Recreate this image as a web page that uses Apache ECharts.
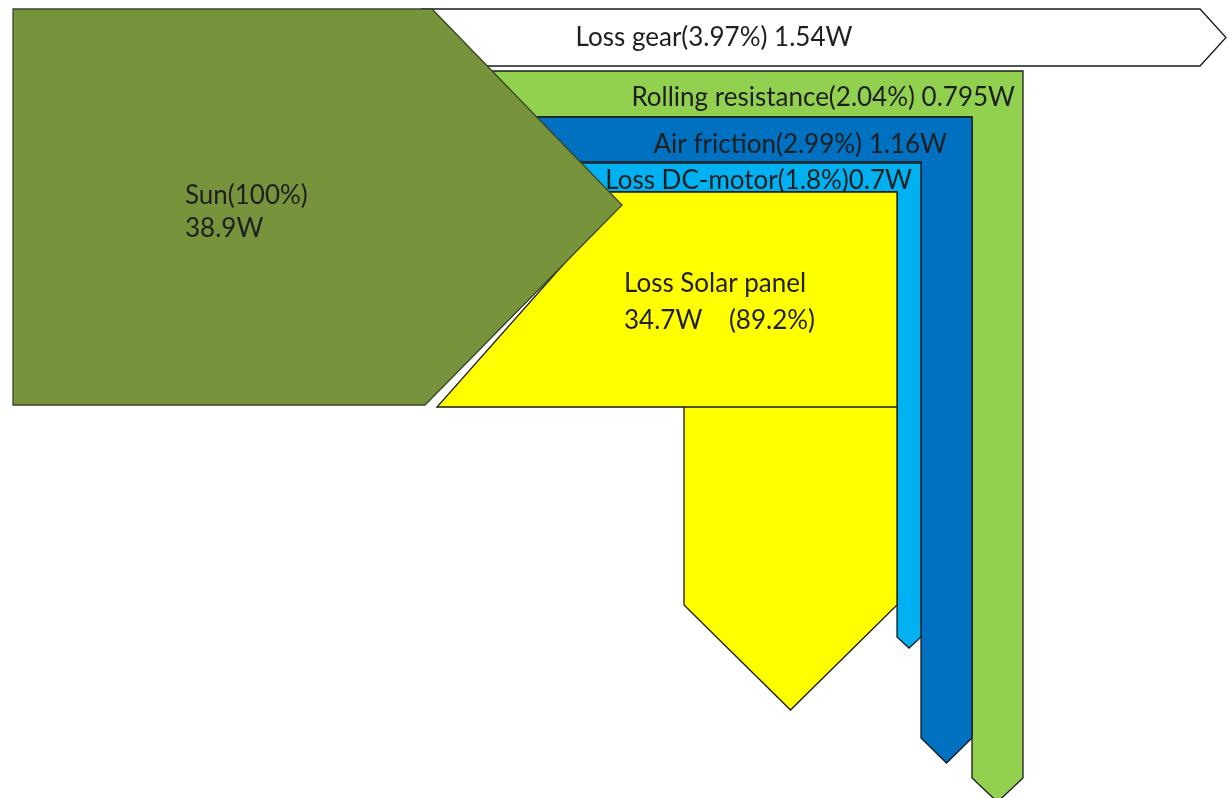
<!DOCTYPE html>
<html>
<head>
<meta charset="utf-8">
<style>
  html, body { margin: 0; padding: 0; background: #ffffff; }
  #chart { width: 1230px; height: 798px; }
</style>
<script src="https://cdn.jsdelivr.net/npm/echarts@6/dist/echarts.min.js"></script>
</head>
<body>
<div id="chart"></div>
<script>
// Power flow of the solar vehicle: the source (last in the list) is drawn last, on top
const flowNames = ['Loss gear', 'Rolling resistance', 'Air friction', 'Loss DC-motor', 'Loss Solar panel', 'Sun'];
const flowPercents = ['3.97', '2.04', '2.99', '1.8', '89.2', '100'];
const flowWatts = ['1.54', '0.795', '1.16', '0.7', '34.7', '38.9'];
const labelFormats = [
  '{n}({p}%) {w}W',
  '{n}({p}%) {w}W',
  '{n}({p}%) {w}W',
  '{n}({p}%){w}W',
  '{n}\n{w}W    ({p}%)',
  '{n}({p}%)\n{w}W'
];

// Diagram layout, in units of the hidden drawing axes (0..1230 across, 0..798 down)
const bandLayout = [
  { kind: 'right', top: 9, bottom: 66, end: 1200, tip: 1226 },
  { kind: 'down', top: 71, bottom: 117, left: 972, right: 1023, end: 778, tip: 802 },
  { kind: 'down', top: 117, bottom: 162, left: 921, right: 972, end: 738, tip: 763 },
  { kind: 'down', top: 163, bottom: 192, left: 897, right: 921, end: 637, tip: 648 },
  { kind: 'down', top: 192, bottom: 407, left: 684, right: 897, end: 605, tip: 710,
    foot: [437, 407], footEdge: [616, 205], footTop: 600, seam: true },
  { kind: 'source', top: 9, bottom: 405, left: 13, shoulder: 432, lowShoulder: 425, tipX: 622, tipY: 205 }
];
const labelLayout = [
  { x: 714, y: 38, align: 'center', lh: 30 },
  { x: 1015, y: 98, align: 'right', lh: 30 },
  { x: 947, y: 145, align: 'right', lh: 30 },
  { x: 912, y: 181, align: 'right', lh: 30 },
  { x: 624, y: 302, align: 'left', lh: 37 },
  { x: 185, y: 212, align: 'left', lh: 33 }
];
const flowColors = ['#ffffff', '#92d050', '#0070c0', '#00b0f0', '#ffff00', '#77933c'];
const flowStrokes = ['#1a1a1a', '#1a1a1a', '#1a1a1a', '#1a1a1a', '#1a1a1a', '#3b4628'];

const source = bandLayout[bandLayout.length - 1];
// x of the source arrow's upper slanted edge at a given depth
function sourceEdgeX(y) {
  return source.shoulder + (y - source.top) * (source.tipX - source.shoulder) / (source.tipY - source.top);
}

function bandPoints(b) {
  if (b.kind === 'source') {
    return [[b.left, b.top], [b.shoulder, b.top], [b.tipX, b.tipY], [b.lowShoulder, b.bottom], [b.left, b.bottom]];
  }
  const hiddenTop = sourceEdgeX(b.top) - 10;
  const hiddenBottom = sourceEdgeX(b.bottom) - 10;
  if (b.kind === 'right') {
    const mid = (b.top + b.bottom) / 2;
    return [[hiddenTop, b.top], [b.end, b.top], [b.tip, mid], [b.end, b.bottom], [hiddenBottom, b.bottom]];
  }
  const midX = (b.left + b.right) / 2;
  const pts = [
    [b.footTop !== undefined ? b.footTop : hiddenTop, b.top], [b.right, b.top], [b.right, b.end], [midX, b.tip],
    [b.left, b.end], [b.left, b.bottom]
  ];
  if (b.foot) {
    pts.push(b.foot, b.footEdge);
  } else {
    pts.push([hiddenBottom, b.bottom]);
  }
  return pts;
}

function formatLabel(i) {
  return labelFormats[i]
    .replace('{n}', flowNames[i])
    .replace('{p}', flowPercents[i])
    .replace('{w}', flowWatts[i]);
}

const seriesData = flowNames.map((n, i) => ({ name: n, value: [i, Number(flowWatts[i]), Number(flowPercents[i])] }));

const chart = echarts.init(document.getElementById('chart'), null, { renderer: 'canvas' });
chart.setOption({
  animation: false,
  backgroundColor: '#ffffff',
  grid: { left: 0, right: 0, top: 0, bottom: 0 },
  xAxis: { type: 'value', min: 0, max: 1230, show: false },
  yAxis: { type: 'value', min: 0, max: 798, inverse: true, show: false },
  series: [{
    type: 'custom',
    coordinateSystem: 'cartesian2d',
    data: seriesData,
    encode: { x: 0, y: 0 },
    renderItem: function (params, api) {
      const i = api.value(0);
      const band = bandLayout[i];
      const pts = bandPoints(band).map(p => api.coord(p));
      const lab = labelLayout[i];
      const lp = api.coord([lab.x, lab.y]);
      const children = [
        {
          type: 'polygon',
          shape: { points: pts },
          style: { fill: flowColors[i], stroke: flowStrokes[i], lineWidth: 1.3, lineJoin: 'miter' }
        }
      ];
      if (band.seam) {
        // joint between the horizontal run and the downward arrow
        const a = api.coord([band.left, band.bottom]);
        const c = api.coord([band.right, band.bottom]);
        children.push({
          type: 'line',
          shape: { x1: a[0], y1: a[1], x2: c[0], y2: c[1] },
          style: { stroke: '#1a1a1a', lineWidth: 1.3 }
        });
      }
      children.push({
        type: 'text',
        x: lp[0],
        y: lp[1],
        style: {
          text: formatLabel(i),
          fill: '#1f1f1f',
          font: '26px Lato',
          lineHeight: lab.lh,
          align: lab.align,
          verticalAlign: 'middle'
        }
      });
      return { type: 'group', children: children };
    }
  }]
});
</script>
</body>
</html>
